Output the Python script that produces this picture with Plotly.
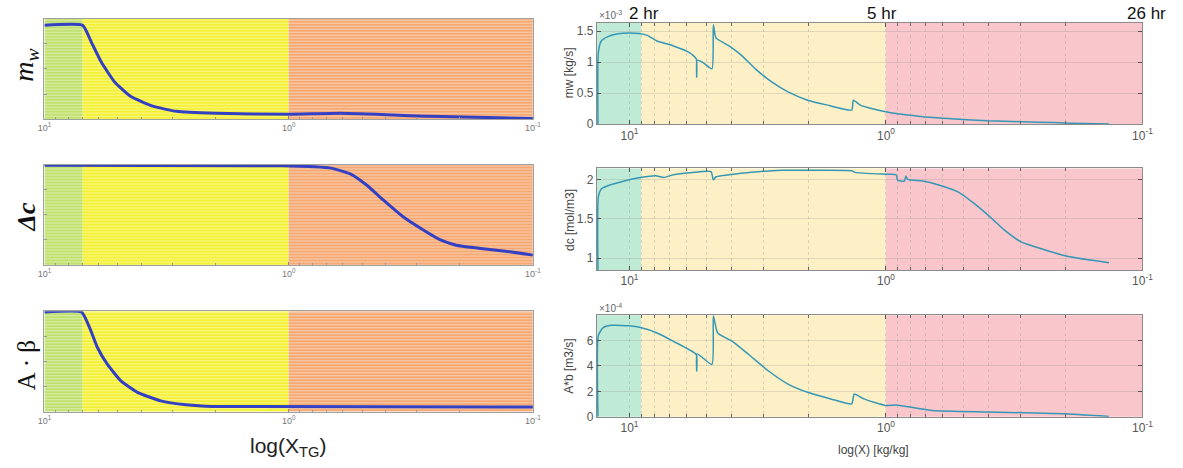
import math
import plotly.graph_objects as go

# ---------------- data ----------------
# Left (schematic) panels: region boundaries in X_TG and normalised curves
left_bounds = [10.0, 6.97, 1.0, 0.1]
left_colors = ["#bfe06c", "#f4f034", "#f5a872"]

mw_s_x = [10, 6.97, 6.42, 5.85, 5.17, 4.43, 3.57, 2.88, 1.99, 1.0, 0.611, 0.265, 0.1]
mw_s_y = [0.934, 0.934, 0.765, 0.569, 0.373, 0.225, 0.127, 0.078, 0.059, 0.049, 0.059, 0.029, 0.006]

dc_s_x = [10, 1.067, 0.671, 0.557, 0.477, 0.410, 0.340, 0.283, 0.2415, 0.206, 0.1667, 0.1297, 0.1]
dc_s_y = [0.993, 0.987, 0.964, 0.905, 0.791, 0.647, 0.480, 0.353, 0.255, 0.196, 0.167, 0.137, 0.098]

ab_s_x = [10, 7.05, 6.52, 6.06, 5.52, 4.85, 4.18, 3.34, 2.63, 2.04, 0.1]
ab_s_y = [0.993, 0.993, 0.833, 0.637, 0.471, 0.304, 0.196, 0.108, 0.069, 0.052, 0.046]

# Right (measured) panels
right_xmax = 13.4
right_bounds = [13.4, 9.0, 1.0, 0.1]
right_colors = ["#bfebd6", "#fdf0c6", "#f8c6cb"]

mw_x = [13.27, 13.23, 12.88, 12.14, 11.11, 10.03, 9.18, 8.53, 7.81, 6.74, 5.82, 5.49, 5.47, 5.45,
        5.18, 4.77, 4.71, 4.60, 4.09, 3.64, 3.23, 2.79, 2.41, 2.02, 1.69, 1.36, 1.34, 1.26, 1.12,
        1.0, 0.916, 0.721, 0.539, 0.401, 0.258, 0.192, 0.135]
mw_y = [0.0, 1.15, 1.34, 1.41, 1.455, 1.47, 1.46, 1.43, 1.34, 1.26, 1.15, 1.05, 0.76, 1.03,
        0.995, 0.89, 1.60, 1.39, 1.26, 1.10, 0.89, 0.68, 0.52, 0.386, 0.306, 0.227, 0.386, 0.306, 0.243,
        0.20, 0.17, 0.12, 0.084, 0.053, 0.032, 0.016, 0.0]  # x1e-3 kg/s

dc_x = [13.27, 13.23, 12.88, 12.14, 10.48, 9.05, 7.81, 7.36, 6.74, 5.82, 4.81, 4.71, 4.60, 3.75,
        2.55, 1.79, 1.36, 1.32, 1.0, 0.913, 0.90, 0.848, 0.836, 0.823, 0.721, 0.623, 0.522, 0.451,
        0.401, 0.346, 0.2985, 0.243, 0.192, 0.135]
dc_y = [0.85, 1.775, 1.88, 1.92, 1.98, 2.025, 2.045, 2.025, 2.06, 2.085, 2.10, 1.996, 2.034, 2.075,
        2.116, 2.116, 2.11, 2.09, 2.066, 2.06, 1.99, 1.98, 2.045, 2.0, 1.98, 1.93, 1.84, 1.69,
        1.55, 1.36, 1.21, 1.11, 1.016, 0.94]  # mol/m3

ab_x = [13.27, 13.23, 12.69, 11.79, 10.03, 9.05, 7.81, 6.74, 5.49, 5.47, 5.45, 4.77, 4.71, 4.53,
        3.97, 3.43, 2.87, 2.41, 2.02, 1.64, 1.36, 1.33, 1.22, 1.0, 0.913, 0.66, 0.401, 0.204, 0.135]
ab_y = [0.0, 6.4, 7.0, 7.2, 7.16, 7.03, 6.6, 5.94, 4.9, 3.6, 4.95, 4.12, 7.96, 6.6,
        5.94, 4.9, 3.6, 2.57, 1.92, 1.40, 1.01, 1.79, 1.40, 0.88, 0.92, 0.49, 0.37, 0.23, 0.02]  # x1e-4 m3/s

hour_labels = ["2 hr", "5 hr", "26 hr"]
decade_vals = [10, 1, 0.1]
decade_text = ["10<sup>1</sup>", "10<sup>0</sup>", "10<sup>-1</sup>"]
minor_vals = [9, 8, 7, 6, 5, 4, 3, 2, 0.9, 0.8, 0.7, 0.6, 0.5, 0.4, 0.3, 0.2]

# ---------------- layout geometry ----------------
W, H = 1183, 468


def px_dom_x(a, b):
    return [a / W, b / W]


def px_dom_y(top, bottom):
    return [1 - bottom / H, 1 - top / H]


left_xd = px_dom_x(38, 534)
right_xd = px_dom_x(599, 1153)
left_yd = [px_dom_y(19, 121), px_dom_y(167, 269), px_dom_y(316, 418)]
right_yd = [px_dom_y(23, 126), px_dom_y(171, 274), px_dom_y(320, 423)]

fig = go.Figure()

# ---- left panels ----
left_series = [(mw_s_x, mw_s_y), (dc_s_x, dc_s_y), (ab_s_x, ab_s_y)]
for i in range(3):
    xa, ya = f"x{i+1}", f"y{i+1}"
    for (a, b), col in zip(zip(left_bounds[:-1], left_bounds[1:]), left_colors):
        fig.add_trace(go.Scatter(
            x=[a, b, b, a, a], y=[0, 0, 1, 1, 0], fill="toself", mode="lines",
            line=dict(width=0), fillcolor=col,
            fillpattern=dict(shape="-", bgcolor=col, fgcolor="white", fgopacity=0.6,
                             size=3, solidity=0.25),
            xaxis=xa, yaxis=ya, hoverinfo="skip", showlegend=False))
    sx, sy = left_series[i]
    fig.add_trace(go.Scatter(x=sx, y=sy, mode="lines",
                             line=dict(color="#3340c4", width=3, shape="spline", smoothing=0.45),
                             xaxis=xa, yaxis=ya, showlegend=False, hoverinfo="skip"))

# ---- right panels ----
right_series = [(mw_x, mw_y), (dc_x, dc_y), (ab_x, ab_y)]
for i in range(3):
    k = i + 4
    xa, ya = f"x{k}", f"y{k}"
    sx, sy = right_series[i]
    fig.add_trace(go.Scatter(x=sx, y=sy, mode="lines",
                             line=dict(color="#3597b6", width=1.5, shape="spline", smoothing=0.5),
                             xaxis=xa, yaxis=ya, showlegend=False, hoverinfo="skip"))
    for (a, b), col in zip(zip(right_bounds[:-1], right_bounds[1:]), right_colors):
        fig.add_shape(type="rect", xref=xa, yref=f"{ya} domain", x0=a, x1=b, y0=0, y1=1,
                      fillcolor=col, line=dict(width=0), layer="below")

layout = dict(width=W, height=H, margin=dict(l=0, r=0, t=0, b=0),
              paper_bgcolor="white", plot_bgcolor="white",
              font=dict(family="Liberation Sans, Arial, sans-serif", color="#555"),
              showlegend=False)

for i in range(3):
    n = i + 1
    layout[f"xaxis{n}"] = dict(
        domain=left_xd, type="log", range=[1, -1], anchor=f"y{n}",
        showline=True, linecolor="#a0a0a0", linewidth=1, mirror=True,
        showgrid=False, zeroline=False,
        tickvals=decade_vals, ticktext=decade_text, ticks="inside", ticklen=3,
        tickcolor="#888", tickfont=dict(size=9, color="#777"),
        minor=dict(tickvals=minor_vals, ticks="inside", ticklen=2, tickcolor="#999"))
    layout[f"yaxis{n}"] = dict(
        domain=left_yd[i], range=[0, 1], anchor=f"x{n}",
        showline=True, linecolor="#a0a0a0", linewidth=1, mirror=True,
        showgrid=False, zeroline=False, showticklabels=False,
        tickvals=[0.25, 0.5, 0.75], ticks="inside", ticklen=3, tickcolor="#999")

right_yranges = [[0, 1.635], [0.85, 2.14], [0, 8.0]]
right_yticks = [[0, 0.5, 1, 1.5], [1, 1.5, 2], [0, 2, 4, 6]]
for i in range(3):
    n = i + 4
    layout[f"xaxis{n}"] = dict(
        domain=right_xd, type="log", range=[math.log10(right_xmax), -1], anchor=f"y{n}",
        showline=True, linecolor="#8c8c8c", linewidth=1, mirror="ticks",
        showgrid=True, gridcolor="rgba(140,140,140,0.3)", griddash="dot", gridwidth=1,
        zeroline=False, tickvals=decade_vals, ticktext=decade_text,
        ticks="inside", ticklen=4, tickcolor="#555", tickfont=dict(size=12, color="#555"),
        minor=dict(tickvals=minor_vals, ticks="inside", ticklen=3, tickcolor="#666",
                   showgrid=True, gridcolor="rgba(140,140,140,0.3)", griddash="dot"))
    layout[f"yaxis{n}"] = dict(
        domain=right_yd[i], range=right_yranges[i], anchor=f"x{n}",
        showline=True, linecolor="#8c8c8c", linewidth=1, mirror="ticks",
        showgrid=True, gridcolor="rgba(140,140,140,0.25)", gridwidth=1,
        zeroline=False, tickvals=right_yticks[i],
        ticks="inside", ticklen=4, tickcolor="#555", tickfont=dict(size=12, color="#555"))

fig.update_layout(**layout)

ann = []
# left y labels
serif = "Liberation Serif, DejaVu Serif, serif"
ann.append(dict(x=18 / W, y=1 - 66 / H, text="<i>m</i><sub><i>w</i></sub>", textangle=-90,
                font=dict(size=28, family=serif, color="#111")))
ann.append(dict(x=20 / W, y=1 - 220 / H, text="<i><b>Δc</b></i>", textangle=-90,
                font=dict(size=26, family=serif, color="#111")))
ann.append(dict(x=20 / W, y=1 - 371 / H, text="A · β", textangle=-90,
                font=dict(size=25, family=serif, color="#111")))
ann.append(dict(x=285 / W, y=1 - 454 / H, text="log(X<sub>TG</sub>)",
                font=dict(size=21, color="#222")))
# right y labels
for txt, yc in [("mw [kg/s]", 74), ("dc [mol/m3]", 223), ("A*b [m3/s]", 372)]:
    ann.append(dict(x=571 / W, y=1 - yc / H, text=txt, textangle=-90,
                    font=dict(size=12, color="#444")))
ann.append(dict(x=880 / W, y=1 - 457 / H, text="log(X) [kg/kg]", font=dict(size=12, color="#444")))
ann.append(dict(x=599 / W, y=1 - 15 / H, xanchor="left", text="×10<sup>-3</sup>",
                font=dict(size=10, color="#666")))
ann.append(dict(x=599 / W, y=1 - 313 / H, xanchor="left", text="×10<sup>-4</sup>",
                font=dict(size=10, color="#666")))
for txt, xc in zip(hour_labels, [647, 889, 1157]):
    ann.append(dict(x=xc / W, y=1 - 14 / H, text=txt, font=dict(size=17, color="#111")))

for a in ann:
    a.update(xref="paper", yref="paper", showarrow=False)
    a.setdefault("xanchor", "center")
    a.setdefault("yanchor", "middle")
fig.update_layout(annotations=ann)

fig.write_html("out.html")
